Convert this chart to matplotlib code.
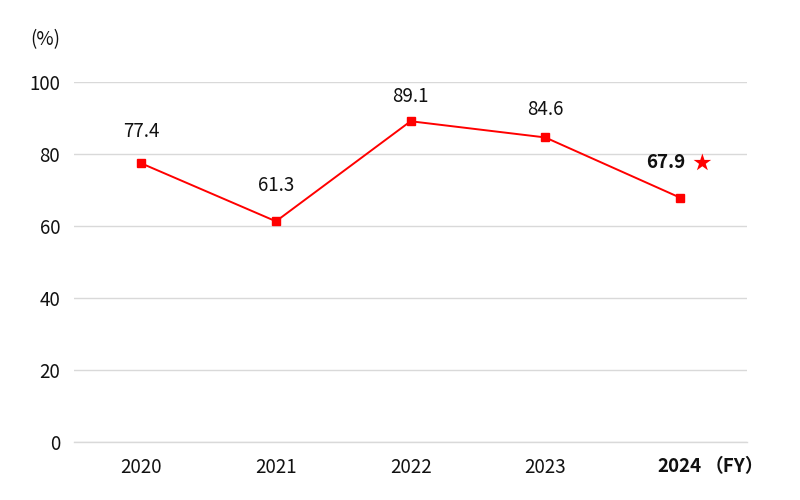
import matplotlib
matplotlib.use("Agg")
import matplotlib.pyplot as plt

plt.rcParams["font.family"] = ["Noto Sans CJK JP", "DejaVu Sans"]

YEARS  = ["2020", "2021", "2022", "2023", "2024"]
VALUES = [77.4, 61.3, 89.1, 84.6, 67.9]
Y_TICKS = [0, 20, 40, 60, 80, 100]
RED = "#ff0000"
FS = 13.5

fig = plt.figure(figsize=(8, 5), dpi=100)
ax = fig.add_axes([0.0925, 0.116, 0.8415, 0.72])

x = list(range(len(YEARS)))
ax.plot(x, VALUES, color=RED, linewidth=1.4, marker="s", markersize=5.5, zorder=3)

# value labels (offsets in points)
offsets = [(0, 23), (0, 26), (0, 18), (0, 20)]
for i, (v, off) in enumerate(zip(VALUES[:-1], offsets)):
    ax.annotate(f"{v:.1f}", (i, v), textcoords="offset points", xytext=off,
                ha="center", va="center", fontsize=FS, color="#111111")
ax.annotate(f"{VALUES[-1]:.1f}", (4, VALUES[-1]), textcoords="offset points",
            xytext=(-10, 25), ha="center", va="center", fontsize=FS,
            fontweight="bold", color="#111111")
ax.annotate("★", (4, VALUES[-1]), textcoords="offset points",
            xytext=(16, 25), ha="center", va="center", fontsize=FS, color=RED)

ax.set_xlim(-0.5, len(YEARS) - 0.5)
ax.set_ylim(0, 100)
ax.set_yticks(Y_TICKS)
ax.set_yticklabels([str(t) for t in Y_TICKS])
ax.set_xticks(x)
ax.set_xticklabels(YEARS)
ax.get_xticklabels()[-1].set_fontweight("bold")
ax.annotate("（FY）", (4, 0), xycoords="data", textcoords="offset points",
            xytext=(18, -18), ha="left", va="center", fontsize=FS,
            fontweight="bold", color="#111111", annotation_clip=False)

ax.tick_params(axis="both", length=0, labelsize=FS, colors="#111111")
ax.tick_params(axis="y", pad=10)
ax.tick_params(axis="x", pad=11)
ax.grid(axis="y", color="#d9d9d9", linewidth=1)
ax.axhline(0, color="#d9d9d9", linewidth=1, clip_on=False, zorder=0)
ax.set_axisbelow(True)
for s in ax.spines.values():
    s.set_visible(False)

fig.text(45 / 800, 1 - 40 / 500, "(%)", ha="center", va="center", fontsize=FS, color="#111111")

fig.savefig("out.png", dpi=100)
